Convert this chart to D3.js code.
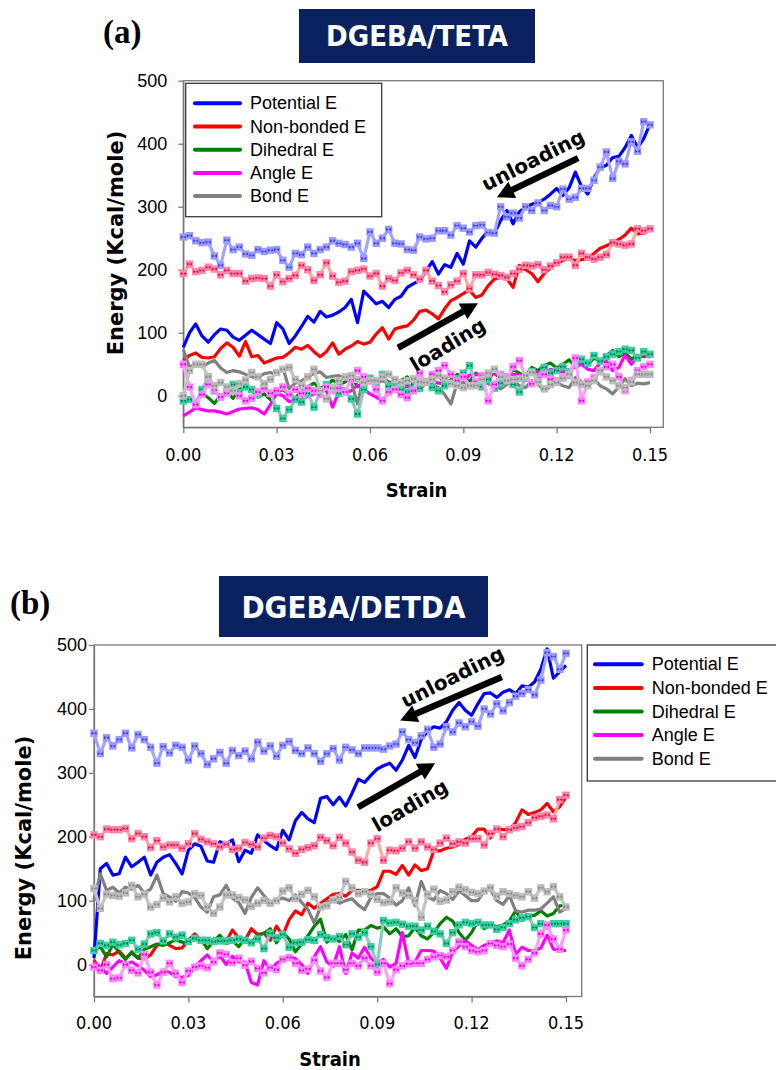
<!DOCTYPE html>
<html>
<head>
<meta charset="utf-8">
<script src="https://cdn.jsdelivr.net/npm/d3@7"></script>
<style>
  body { margin: 0; background: #ffffff; }
  svg { display: block; }
</style>
</head>
<body>
<svg id="fig" width="776" height="1070"></svg>
<script>
// ---- shared axis data ----
const strain = [0.000,0.002,0.004,0.006,0.008,0.010,0.012,0.014,0.016,0.018,
  0.020,0.022,0.024,0.026,0.028,0.030,0.032,0.034,0.036,0.038,
  0.040,0.042,0.044,0.046,0.048,0.050,0.052,0.054,0.056,0.058,
  0.060,0.062,0.064,0.066,0.068,0.070,0.072,0.074,0.076,0.078,
  0.080,0.082,0.084,0.086,0.088,0.090,0.092,0.094,0.096,0.098,
  0.100,0.102,0.104,0.106,0.108,0.110,0.112,0.114,0.116,0.118,
  0.120,0.122,0.124,0.126,0.128,0.130,0.132,0.134,0.136,0.138,
  0.140,0.142,0.144,0.146,0.148,0.150];
const xTicks = [0, 0.03, 0.06, 0.09, 0.12, 0.15];
const yTicks = [0, 100, 200, 300, 400, 500];
const seriesNames = ["Potential E", "Non-bonded E", "Dihedral E", "Angle E", "Bond E"];

// ---- DGEBA/TETA, energies in kcal/mole ----
const tetaPotLoad = [77,100,114,95,85,97,106,104,93,88, 96,104,97,90,83,116,106,83,95,110,
  126,117,134,125,128,133,140,153,116,166, 156,146,150,140,153,158,172,178,183,198,
  213,193,208,204,226,209,246,236,250,262, 258,278,294,273,292,299,304,307,312,320,
  329,318,330,355,332,320,346,362,366,378, 380,394,413,394,408,432];
const tetaPotUnload = [252,254,246,243,244,222,207,247,232,236, 225,223,232,229,231,232,215,204,226,224,
  236,226,232,236,246,242,240,236,242,218, 260,242,250,264,242,241,232,231,252,249,
  250,262,262,255,270,266,260,270,271,259, 258,300,284,290,282,300,294,306,294,302,
  300,328,312,315,329,329,342,363,387,345, 372,368,403,388,435,430];
const tetaNbLoad = [56,64,68,61,60,62,75,84,77,63, 86,62,64,52,56,60,61,68,77,74,
  80,70,62,70,84,66,74,79,86,82, 85,98,108,90,106,109,111,120,134,136,
  130,122,138,151,156,162,168,156,160,175, 185,188,186,172,207,200,194,181,194,203,
  210,215,217,215,216,218,226,234,238,244, 248,255,266,257,258,265];
const tetaNbUnload = [194,209,197,199,204,201,192,199,194,194, 182,186,187,186,174,192,181,186,191,207,
  200,183,192,211,190,180,182,197,199,201, 190,194,174,186,183,195,199,192,185,199,
  182,175,165,176,182,194,170,192,192,196, 193,191,188,194,201,207,206,208,200,206,
  211,220,220,207,226,220,217,220,224,243, 241,239,241,265,262,265];
const tetaDihLoad = [2,-6,-10,4,-3,-12,0,6,-4,10, 18,8,-2,3,-6,5,10,2,-4,8,
  14,20,12,16,25,18,22,30,15,20, 26,19,28,22,17,24,30,21,26,18,
  27,32,20,25,34,28,22,36,30,26, 38,33,29,42,36,31,45,40,48,52,
  44,50,57,46,53,49,60,55,64,72, 62,68,58,64,62,66];
const tetaDihUnload = [-8,-6,-12,10,30,8,-2,6,18,5, 14,10,2,12,4,-20,-36,-22,-6,-10,
  4,-18,6,18,12,4,8,-5,-29,10, 28,20,34,15,22,10,6,18,12,22,
  13,8,16,20,27,36,48,20,14,26, 12,20,30,18,6,28,38,30,45,36,
  40,46,38,50,58,52,64,55,62,66, 70,74,72,60,70,66];
const tetaAngLoad = [-32,-26,-19,-22,-24,-24,-26,-29,-25,-21, -20,-19,-22,-29,-14,4,0,-9,-8,-5,
  -1,3,12,8,-18,6,5,8,17,10, 3,-2,-8,6,10,13,15,16,12,20,
  24,20,19,25,15,20,33,34,32,35, 35,28,30,34,33,32,38,38,36,42,
  38,38,41,46,50,42,40,52,55,40, 45,65,50,62,66,61];
const tetaAngUnload = [50,14,-14,2,18,10,-2,4,8,0, -8,-4,6,12,4,8,14,2,10,4,
  12,8,2,14,8,12,6,26,40,30, 24,10,-8,6,10,2,-3,8,36,22,
  34,40,48,34,24,30,16,22,32,-8, 18,34,28,46,56,30,19,28,34,26,
  24,30,32,60,-8,22,29,38,46,50, 30,8,24,40,46,50];
const tetaBondLoad = [74,45,50,46,52,56,44,37,40,38, 34,30,29,35,37,34,45,11,20,24,
  29,36,38,29,31,32,27,22,-13,32, 25,19,24,20,14,11,21,12,8,24,
  18,13,2,-13,20,21,16,20,24,19, 16,11,18,24,16,13,24,18,8,15,
  21,16,13,29,22,19,27,16,11,3, 14,27,16,20,19,21];
const tetaBondUnload = [0,40,50,50,30,16,21,14,8,19, 25,37,30,19,26,37,42,45,26,16,
  30,42,8,-5,12,24,30,32,26,21, 24,24,30,34,26,21,24,27,22,21,
  26,32,28,19,16,13,16,16,26,36, 42,30,24,26,27,32,37,22,11,18,
  21,28,34,21,18,16,24,40,30,24, 16,13,22,34,34,34];

// ---- DGEBA/DETDA, energies in kcal/mole ----
const detdaPotLoad = [10,150,158,140,142,168,153,160,168,140, 160,168,172,158,142,179,189,185,162,160,
  192,189,195,161,179,174,203,194,186,180, 210,195,225,238,228,222,260,263,250,262,
  248,268,290,285,296,306,311,315,304,320, 343,324,352,365,372,370,380,398,410,398,
  390,408,424,425,418,426,430,424,436,434, 442,462,494,448,458,468];
const detdaPotUnload = [362,330,355,342,352,362,339,360,352,340, 315,341,331,343,340,320,342,330,313,322,
  332,315,335,327,334,322,348,334,342,326, 343,349,335,330,339,330,318,330,338,320,
  340,336,330,339,339,339,337,342,345,364, 352,347,358,368,340,345,372,364,378,372,
  380,373,400,392,408,397,410,420,424,430, 422,445,488,482,462,487];
const detdaNbLoad = [7,-10,17,15,21,10,18,10,9,15, 30,35,30,25,26,38,48,38,34,40,
  35,36,54,41,38,56,47,49,38,60, 45,70,84,78,96,88,96,103,110,111,
  107,116,116,114,116,122,146,146,141,155, 140,156,147,150,178,178,182,184,188,196,
  200,212,212,198,214,211,211,222,242,235, 238,242,252,239,247,262];
const detdaNbUnload = [203,200,212,211,211,213,197,205,200,183, 194,184,187,187,182,189,205,196,192,189,
  184,188,180,182,191,188,184,198,202,200, 190,181,174,180,183,186,199,194,186,199,
  190,176,163,160,190,197,163,179,178,182, 192,182,192,184,180,190,198,189,192,190,
  197,197,187,205,212,200,211,214,216,222, 230,232,234,228,258,265];
const detdaDihLoad = [22,28,12,32,19,8,20,10,24,28, 32,30,34,39,35,34,42,40,25,36,
  46,33,37,28,41,35,45,49,56,34, 50,40,20,32,45,60,71,35,43,36,
  47,23,54,54,61,57,59,48,56,44, 45,58,45,40,50,64,74,68,50,38,
  50,68,56,62,59,62,68,84,69,77, 77,84,76,80,92,92];
const detdaDihUnload = [22,33,30,35,31,33,38,24,32,48, 50,37,48,43,46,36,41,38,38,36,
  37,37,38,40,38,34,40,25,49,42, 47,27,34,35,39,38,47,42,40,44,
  31,48,43,50,28,0,69,65,66,63, 60,60,54,60,52,48,33,50,62,66,
  64,66,62,62,55,58,64,70,73,75, 58,64,60,64,64,64];
const detdaAngLoad = [4,-4,-14,-4,6,2,4,-2,-9,-19, -16,-10,-12,-19,-20,-17,-4,6,15,4,
  14,0,13,4,4,-28,-32,6,-8,2, 8,13,9,0,-14,12,28,4,-3,28,
  -14,18,10,27,10,2,8,-4,2,50, 2,4,22,22,21,10,-6,20,29,37,
  30,23,30,33,37,34,54,16,27,22, 22,26,46,24,22,22];
const detdaAngUnload = [-4,-9,0,-22,-21,0,-9,-13,16,-12, -32,-12,2,-14,-28,-10,-4,-2,-5,4,
  18,16,3,10,-1,5,-6,-13,-5,-8, 8,11,2,-9,-7,7,-10,-20,2,2,
  -8,2,-2,10,-2,-12,2,-30,-8,-2, 1,2,2,8,12,14,12,22,36,28,
  22,20,22,33,30,28,32,10,-2,8, 18,48,62,40,24,54];
const detdaBondLoad = [100,142,116,121,112,121,118,124,112,118, 140,111,106,99,114,112,105,90,82,106,
  109,124,104,97,80,105,120,108,97,101, 104,100,109,97,86,65,90,98,101,96,
  100,103,93,86,105,111,111,104,93,100, 120,92,130,106,101,116,111,102,115,108,
  100,100,115,118,100,94,108,84,82,85, 85,87,96,106,82,88];
const detdaBondUnload = [119,88,110,108,107,112,124,106,110,90, 94,104,98,106,96,98,111,108,90,80,
  90,109,109,105,101,91,96,100,96,100, 115,120,103,110,116,106,90,92,101,105,
  130,120,111,114,110,102,97,98,120,112, 108,100,74,110,118,99,101,114,121,117,
  113,111,115,120,107,114,111,108,106,114, 104,120,114,122,106,90];

// ---- styling ----
const loadColor   = ["#0000ff", "#ff0000", "#008000", "#ff00ff", "#808080"];
const unloadLine  = ["#a3a3ff", "#ffaa9e", "#8fc7be", "#ff9cff", "#c4c4c4"];
const unloadFill  = ["#9a9aff", "#ff85ae", "#3ad0a0", "#ff85ff", "#bdbdbd"];
const unloadDot   = ["#3c3cff", "#e8102c", "#00805a", "#e000e0", "#8a8a8a"];

const AXIS_COLOR = "#7a7a7a";
const TICK_FONT = "'DejaVu Sans Condensed','DejaVu Sans',sans-serif";
const BOLD_FONT = "'DejaVu Sans',sans-serif";
const ARIAL = "'Liberation Sans',Arial,sans-serif";

const svg = d3.select("#fig");

const panels = [
  {
    letter: "(a)", letterX: 103, letterY: 43,
    title: "DGEBA/TETA", box: [299, 9, 236, 54], titleSize: 29,
    left: 183.3, axisRight: 650, frameRight: 663.3, top: 80.7, bottom: 427.3,
    yPad: 11, xLabelY: 461, strainY: 497,
    yTitleX: 116, yTitleY: 243,
    legend: { x: 185.7, y: 83.3, w: 196, h: 133.4, lx0: 195, lx1: 240, tx: 250, row0: 103.3, step: 23.2 },
    load:   [tetaPotLoad, tetaNbLoad, tetaDihLoad, tetaAngLoad, tetaBondLoad],
    unload: [tetaPotUnload, tetaNbUnload, tetaDihUnload, tetaAngUnload, tetaBondUnload],
    notes: {
      unloadText: [0.1124, 374, -26.5], loadText: [0.0850, 81, -31],
      unloadArrow: [0.1269, 377, 0.1008, 315], loadArrow: [0.0690, 76, 0.0947, 147]
    }
  },
  {
    letter: "(b)", letterX: 10, letterY: 614,
    title: "DGEBA/DETDA", box: [219, 576, 269, 61], titleSize: 31,
    left: 94, axisRight: 566, frameRight: 581.7, top: 645, bottom: 996.5,
    yPad: 2, xLabelY: 1029, strainY: 1066,
    yTitleX: 24, yTitleY: 848,
    legend: { x: 587.3, y: 645, w: 220, h: 136, lx0: 595, lx1: 641.7, tx: 651.7, row0: 664.3, step: 23.6 },
    load:   [detdaPotLoad, detdaNbLoad, detdaDihLoad, detdaAngLoad, detdaBondLoad],
    unload: [detdaPotUnload, detdaNbUnload, detdaDihUnload, detdaAngUnload, detdaBondUnload],
    notes: {
      unloadText: [0.1139, 450, -26.5], loadText: [0.1004, 249, -30],
      unloadArrow: [0.1296, 450, 0.0973, 382], loadArrow: [0.0839, 246, 0.1084, 315]
    }
  }
];

// filled block arrow from (x0,y0) to tip (x1,y1)
function arrowPath(x0, y0, x1, y1) {
  const dx = x1 - x0, dy = y1 - y0, L = Math.hypot(dx, dy);
  const ux = dx / L, uy = dy / L, nx = -uy, ny = ux;
  const hw = 3.2, headL = 17, headW = 9;
  const bx = x1 - ux * headL, by = y1 - uy * headL;
  const p = [
    [x0 + nx * hw, y0 + ny * hw], [bx + nx * hw, by + ny * hw], [bx + nx * headW, by + ny * headW],
    [x1, y1],
    [bx - nx * headW, by - ny * headW], [bx - nx * hw, by - ny * hw], [x0 - nx * hw, y0 - ny * hw]
  ];
  return "M" + p.map(q => q.join(",")).join("L") + "Z";
}

panels.forEach(p => {
  const g = svg.append("g");

  // panel letter and title badge
  g.append("text").attr("x", p.letterX).attr("y", p.letterY)
    .attr("font-family", "'Liberation Serif','Times New Roman',serif")
    .attr("font-weight", "bold").attr("font-size", 33).attr("fill", "#000")
    .text(p.letter);
  g.append("rect").attr("x", p.box[0]).attr("y", p.box[1])
    .attr("width", p.box[2]).attr("height", p.box[3]).attr("fill", "#0a2160");
  g.append("text")
    .attr("x", p.box[0] + p.box[2] / 2).attr("y", p.box[1] + p.box[3] / 2)
    .attr("text-anchor", "middle").attr("dominant-baseline", "central")
    .attr("font-family", TICK_FONT).attr("font-weight", "bold")
    .attr("font-size", p.titleSize).attr("fill", "#ffffff")
    .text(p.title);

  const x = d3.scaleLinear().domain([0, 0.15]).range([p.left, p.axisRight]);
  const y = d3.scaleLinear().domain([-50, 500]).range([p.bottom, p.top]);

  // plot-area frame
  g.append("rect").attr("x", p.left).attr("y", p.top)
    .attr("width", p.frameRight - p.left).attr("height", p.bottom - p.top)
    .attr("fill", "none").attr("stroke", AXIS_COLOR).attr("stroke-width", 1.3);

  // axes
  const xAxis = g.append("g").attr("transform", `translate(0,${p.bottom})`)
    .call(d3.axisBottom(x).tickValues(xTicks).tickFormat(d3.format(".2f"))
      .tickSize(6).tickSizeOuter(0).tickPadding(8));
  xAxis.selectAll("path,line").attr("stroke", AXIS_COLOR).attr("stroke-width", 1.3);
  xAxis.selectAll("text").remove();
  g.selectAll(null).data(xTicks).enter().append("text")
    .attr("x", d => x(d)).attr("y", p.xLabelY)
    .attr("text-anchor", "middle").attr("font-family", TICK_FONT)
    .attr("font-size", 18).attr("fill", "#000").text(d3.format(".2f"));

  const yAxis = g.append("g").attr("transform", `translate(${p.left},0)`)
    .call(d3.axisLeft(y).tickValues(yTicks).tickSize(5).tickSizeOuter(0).tickPadding(p.yPad));
  yAxis.selectAll("path,line").attr("stroke", AXIS_COLOR).attr("stroke-width", 1.3);
  yAxis.selectAll("text").attr("font-family", ARIAL).attr("font-size", 18).attr("fill", "#000");

  // axis titles
  g.append("text").attr("x", (p.left + p.axisRight) / 2).attr("y", p.strainY)
    .attr("text-anchor", "middle").attr("font-family", TICK_FONT)
    .attr("font-weight", "bold").attr("font-size", 20).attr("fill", "#000").text("Strain");
  g.append("text")
    .attr("transform", `translate(${p.yTitleX},${p.yTitleY}) rotate(-90)`)
    .attr("text-anchor", "middle").attr("dominant-baseline", "central")
    .attr("font-family", BOLD_FONT).attr("font-weight", "bold").attr("font-size", 21)
    .attr("fill", "#000").text("Energy (Kcal/mole)");

  const line = d3.line().x((d, i) => x(strain[i])).y(d => y(d));

  // loading curves (solid)
  p.load.forEach((vals, k) => {
    g.append("path").datum(vals).attr("d", line)
      .attr("fill", "none").attr("stroke", loadColor[k]).attr("stroke-width", 3.2)
      .attr("stroke-linejoin", "round");
  });

  // unloading curves (pale line with square markers)
  p.unload.forEach((vals, k) => {
    g.append("path").datum(vals).attr("d", line)
      .attr("fill", "none").attr("stroke", unloadLine[k]).attr("stroke-width", 3.2)
      .attr("stroke-linejoin", "round");
    const m = g.selectAll(null).data(vals).enter().append("g")
      .attr("transform", (d, i) => `translate(${x(strain[i])},${y(d)})`);
    m.append("rect").attr("x", -3.7).attr("y", -3.7).attr("width", 7.4).attr("height", 7.4)
      .attr("fill", unloadFill[k]);
    m.append("path").attr("d", "M-2.6,-1.6L0,0L-2.6,1.6ZM2.6,-1.6L0,0L2.6,1.6Z")
      .attr("fill", unloadDot[k]);
  });

  // direction annotations
  const n = p.notes;
  g.append("path").attr("d", arrowPath(x(n.unloadArrow[0]), y(n.unloadArrow[1]), x(n.unloadArrow[2]), y(n.unloadArrow[3])))
    .attr("fill", "#000");
  g.append("path").attr("d", arrowPath(x(n.loadArrow[0]), y(n.loadArrow[1]), x(n.loadArrow[2]), y(n.loadArrow[3])))
    .attr("fill", "#000");
  [["unloading", n.unloadText], ["loading", n.loadText]].forEach(([txt, t]) => {
    g.append("text")
      .attr("transform", `translate(${x(t[0])},${y(t[1])}) rotate(${t[2]})`)
      .attr("text-anchor", "middle").attr("dominant-baseline", "central")
      .attr("font-family", BOLD_FONT).attr("font-weight", "bold")
      .attr("font-size", 20).attr("fill", "#000").text(txt);
  });

  // legend
  const L = p.legend;
  g.append("rect").attr("x", L.x).attr("y", L.y).attr("width", L.w).attr("height", L.h)
    .attr("fill", "#ffffff").attr("stroke", "#3a3a3a").attr("stroke-width", 1.3);
  seriesNames.forEach((name, k) => {
    const yy = L.row0 + k * L.step;
    g.append("line").attr("x1", L.lx0).attr("x2", L.lx1).attr("y1", yy).attr("y2", yy)
      .attr("stroke", loadColor[k]).attr("stroke-width", 4).attr("stroke-linecap", "round");
    g.append("text").attr("x", L.tx).attr("y", yy).attr("dominant-baseline", "central")
      .attr("font-family", ARIAL).attr("font-size", 18).attr("fill", "#000").text(name);
  });
});
</script>
</body>
</html>
